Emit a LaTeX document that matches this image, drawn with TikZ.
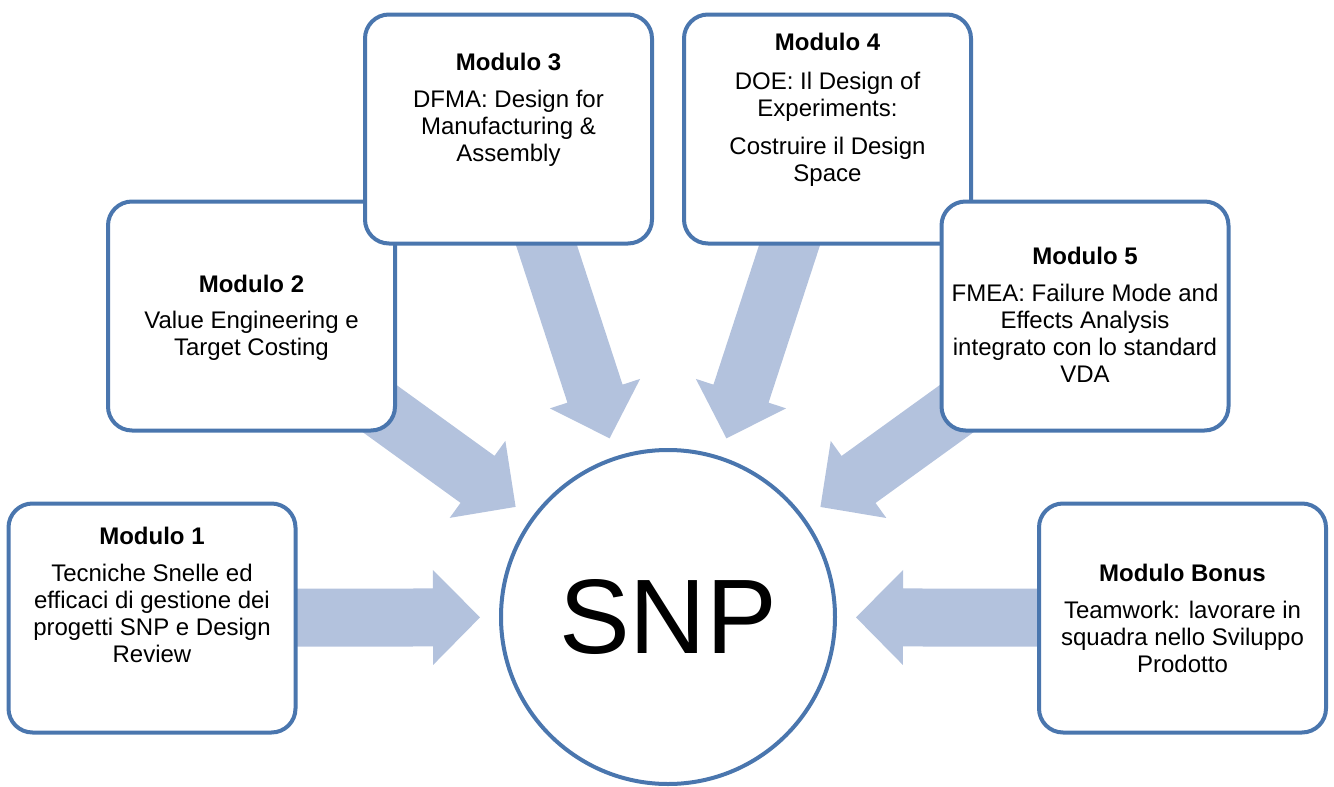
\documentclass[tikz,border=0pt]{standalone}
\usepackage{fontspec}
\setmainfont{Liberation Sans}
\usetikzlibrary{calc,backgrounds}
\definecolor{bline}{HTML}{4A76AE}
\definecolor{afill}{HTML}{B3C2DD}
\tikzset{
  modbox/.style={draw=bline, line width=4pt, rounded corners=24pt, fill=white,
    minimum width=287pt, minimum height=229pt, inner sep=0pt},
  modtext/.style={align=center, inner sep=0pt, anchor=north,
    font=\fontsize{24pt}{27pt}\selectfont},
  hub/.style={circle, draw=bline, line width=4pt, fill=white, minimum size=334pt,
    inner sep=0pt, font=\fontsize{106pt}{120pt}\selectfont},
  blockarrow/.style={fill=afill},
}
\newcommand{\bigarrow}[2]{%
  \coordinate (tip#1) at ($(#2.center)!188pt!(#1.center)$);
  \coordinate (hb#1) at ($(#2.center)!235pt!(#1.center)$);
  \fill[blockarrow] ($(#1.center)!29pt!90:(#2.center)$) -- ($(hb#1)!29pt!90:(#2.center)$)
    -- ($(hb#1)!47.5pt!90:(#2.center)$) -- (tip#1) -- ($(hb#1)!47.5pt!-90:(#2.center)$)
    -- ($(hb#1)!29pt!-90:(#2.center)$) -- ($(#1.center)!29pt!-90:(#2.center)$) -- cycle;
}
\begin{document}
\begin{tikzpicture}[x=1pt,y=-1pt]
\useasboundingbox (0,0) rectangle (1334,787);
% boxes
\node[modbox] (m1) at (152,618) {};
\node[modbox] (m2) at (251.5,316) {};
\node[modbox] (m3) at (508.5,129) {};
\node[modbox] (m4) at (827.5,129) {};
\node[modbox] (m5) at (1085,316) {};
\node[modbox] (mb) at (1182.5,618) {};
\node[hub] (c) at (668,617) {SNP};
% texts
\node[modtext] (t1) at (152,527) {\textbf{Modulo 1}\\[10pt]Tecniche Snelle ed\\efficaci di gestione dei\\progetti SNP e Design\\Review};
\node[modtext] (t2) at (251.5,275) {\textbf{Modulo 2}\\[9pt]Value Engineering e\\Target Costing};
\node[modtext] (t3) at (508.5,53) {\textbf{Modulo 3}\\[10pt]DFMA: Design for\\Manufacturing \&\\Assembly};
\node[modtext] (t4) at (827.5,33) {\textbf{Modulo 4}\\[12pt]DOE: Il Design of\\Experiments:\\[11pt]Costruire il Design\\Space};
\node[modtext] (t5) at (1085,247) {\textbf{Modulo 5}\\[10pt]FMEA: Failure Mode and\\Effects Analysis\\integrato con lo standard\\VDA};
\node[modtext] (tb) at (1182.5,564) {\textbf{Modulo Bonus}\\[10pt]Teamwork: lavorare in\\squadra nello Sviluppo\\Prodotto};
% arrows behind
\begin{pgfonlayer}{background}
\bigarrow{m1}{c}
\bigarrow{m2}{c}
\bigarrow{m3}{c}
\bigarrow{m4}{c}
\bigarrow{m5}{c}
\bigarrow{mb}{c}
\end{pgfonlayer}
\end{tikzpicture}
\end{document}
